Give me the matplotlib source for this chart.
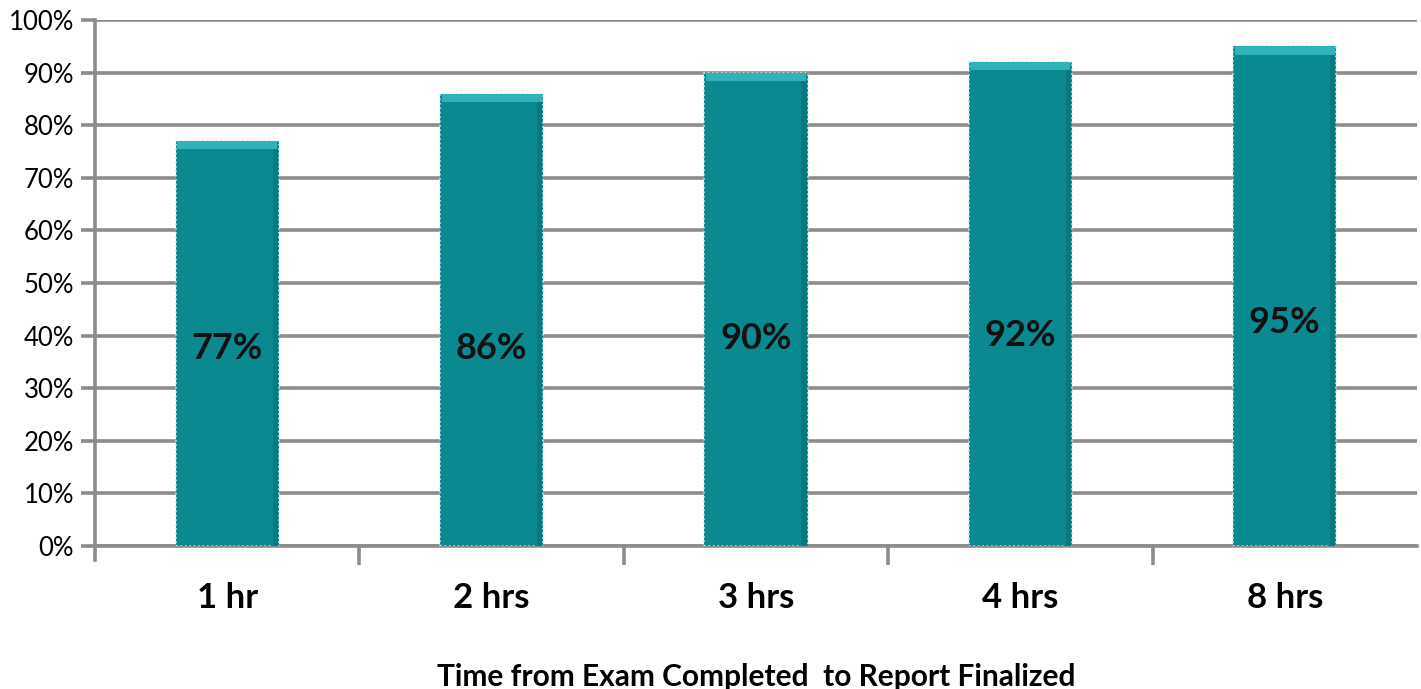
import numpy as np
import matplotlib.pyplot as plt
from matplotlib.ticker import PercentFormatter

categories = ["1 hr", "2 hrs", "3 hrs", "4 hrs", "8 hrs"]
pct_finalized = [77, 86, 90, 92, 95]
label_heights = [37.6, 37.6, 39.4, 40.1, 42.4]

plt.rcParams['font.family'] = ['Lato', 'DejaVu Sans']

fig = plt.figure(figsize=(14.21, 6.89), dpi=100)
ax = fig.add_axes([95 / 1421, 1 - 546 / 689, 1322 / 1421, 526 / 689])

x = np.arange(len(categories))
bar_w = 0.39
teal = "#0a8a90"
grid_c = "#8c8c8c"

ax.set_axisbelow(True)
ax.yaxis.grid(True, color=grid_c, linewidth=2.6)
ax.bar(x, pct_finalized, width=bar_w, color=teal, edgecolor="#cfe6e7",
       linewidth=1.2, linestyle=":", zorder=3)
# bevel: light band on top, darker band down the right side
top = np.array(pct_finalized)
ax.bar(x, np.full(len(x), 1.6), bottom=top - 1.6, width=bar_w * 0.97,
       color="#2fb3b9", linewidth=0, zorder=4)
ax.bar(x + bar_w * 0.465, top - 1.6, width=bar_w * 0.05,
       color="#077a7f", linewidth=0, zorder=4)

for xi, v, h in zip(x, pct_finalized, label_heights):
    ax.text(xi, h, f"{v}%", ha="center", va="center", fontsize=26,
            fontweight="bold", color="#111111", zorder=5)

ax.set_xlim(-0.5, len(x) - 0.5)
ax.set_ylim(0, 100)
ax.set_yticks(range(0, 101, 10))
ax.yaxis.set_major_formatter(PercentFormatter(decimals=0))
ax.set_xticks(x)
ax.set_xticklabels(categories, fontsize=25, fontweight="bold")
ax.set_xticks(np.arange(0.5, len(x) - 0.5, 1), minor=True)
ax.tick_params(axis="x", which="major", length=0, pad=26)
ax.tick_params(axis="x", which="minor", length=14, width=2.6, color=grid_c,
               direction="out")
ax.tick_params(axis="y", length=10, width=2.6, color=grid_c, labelsize=18.5,
               pad=5)

for s in ["top", "right"]:
    ax.spines[s].set_visible(False)
ax.spines["left"].set_color(grid_c)
ax.spines["left"].set_linewidth(2.6)
ax.spines["left"].set_bounds(-2.7, 100)
ax.spines["bottom"].set_color(grid_c)
ax.spines["bottom"].set_linewidth(2.6)

ax.set_xlabel("Time from Exam Completed  to Report Finalized", fontsize=21.5,
              fontweight="bold", labelpad=35)

fig.savefig("out.png", dpi=100)
